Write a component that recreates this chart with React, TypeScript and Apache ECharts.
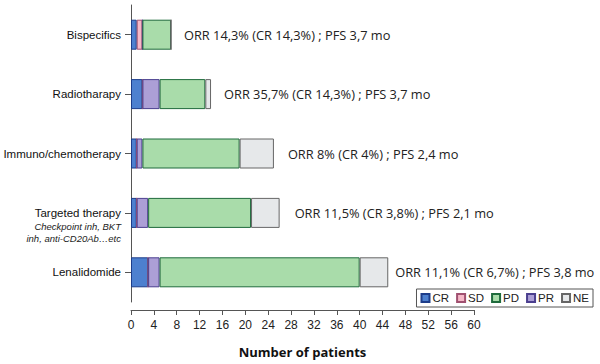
import React, { useEffect, useRef } from "react";
import * as echarts from "echarts";

const categories = ["Bispecifics", "Radiotharapy", "Immuno/chemotherapy", "Targeted therapy", "Lenalidomide"];
const crValues = [1, 2, 1, 1, 3];
const sdValues = [1, 0, 0, 0, 0];
const prValues = [0, 3, 1, 2, 2];
const pdValues = [5, 8, 17, 18, 35];
const neValues = [0, 1, 6, 5, 5];
const annotations = [
  "ORR 14,3% (CR 14,3%) ; PFS 3,7 mo",
  "ORR 35,7% (CR 14,3%) ; PFS 3,7 mo",
  "ORR 8% (CR 4%) ; PFS 2,4 mo",
  "ORR 11,5% (CR 3,8%) ; PFS 2,1 mo",
  "ORR 11,1% (CR 6,7%) ; PFS 3,8 mo",
];
const annotationGaps = [13, 13, 14, 15, 7];
const targetedSub = ["Checkpoint inh, BKT", "inh, anti-CD20Ab…etc"];
const legendNames = ["CR", "SD", "PD", "PR", "NE"];

export default function App() {
  const ref = useRef<HTMLDivElement>(null);
  useEffect(() => {
    if (!ref.current) return;
    const chart = echarts.init(ref.current, undefined, { renderer: "svg" });
    const mk = (name: string, data: number[], color: string, border: string) => ({
      name,
      type: "bar",
      stack: "s",
      data,
      barWidth: 30,
      itemStyle: { color, borderColor: border, borderWidth: 1 },
    });
    chart.setOption({
      animation: false,
      textStyle: { fontFamily: "Liberation Sans, Arial, sans-serif" },
      grid: { left: 131, right: 126, top: 5, height: 297 },
      legend: {
        data: legendNames,
        right: 7,
        top: 289,
        orient: "horizontal",
        icon: "rect",
        itemWidth: 8,
        itemHeight: 8,
        itemGap: 7,
        padding: [3, 4, 3, 4],
        borderColor: "#555",
        borderWidth: 1,
        borderRadius: 0,
        textStyle: { fontSize: 11.5, color: "#222", padding: [0, 0, 0, -2] },
      },
      xAxis: {
        type: "value",
        min: 0,
        max: 60,
        interval: 4,
        offset: 8,
        splitLine: { show: false },
        axisLine: { show: true, lineStyle: { color: "#555" } },
        axisTick: { show: true, length: 5, lineStyle: { color: "#555" } },
        axisLabel: { fontSize: 12, color: "#222", margin: 9 },
        name: "Number of patients",
        nameLocation: "middle",
        nameGap: 35,
        nameTextStyle: { fontSize: 13, fontWeight: "bold", color: "#111", fontFamily: "Open Sans, sans-serif" },
      },
      yAxis: {
        type: "category",
        data: categories,
        inverse: true,
        axisLine: { show: true, lineStyle: { color: "#555" } },
        axisTick: { show: true, alignWithLabel: true, length: 6, lineStyle: { color: "#555" } },
        axisLabel: {
          fontSize: 11,
          color: "#111",
          margin: 10,
          formatter: (v: string) =>
            v === "Targeted therapy"
              ? `{s| }\n{s| }\n{m|${v}}\n{s|${targetedSub[0]}}\n{s|${targetedSub[1]}}`
              : `{m|${v}}`,
          rich: {
            m: { fontSize: 11.5, color: "#111", lineHeight: 15, align: "right" },
            s: { fontSize: 9.5, fontStyle: "italic", color: "#222", lineHeight: 12, align: "right" },
          },
        },
      },
      series: [
        mk("CR", crValues, "#4d80cf", "#1d3d8a"),
        mk("SD", sdValues, "#f5b9c8", "#a05070"),
        mk("PR", prValues, "#ac9fd6", "#4b3f8f"),
        mk("PD", pdValues, "#a9dcaa", "#1f6b3c"),
        mk("NE", neValues, "#e6e8ea", "#666"),
        {
          name: "anno",
          type: "bar",
          stack: "s",
          barWidth: 30,
          data: categories.map((_, i) => ({ value: 0, label: { distance: annotationGaps[i] } })),
          itemStyle: { color: "transparent" },
          label: {
            show: true,
            position: "right",
            fontSize: 12.8,
            color: "#222",
            fontFamily: "Open Sans, sans-serif",
            formatter: (p: any) => annotations[p.dataIndex],
          },
        },
      ],
    });
    return () => chart.dispose();
  }, []);
  return <div ref={ref} style={{ width: 600, height: 364, position: "absolute", left: 0, top: 0 }} />;
}
